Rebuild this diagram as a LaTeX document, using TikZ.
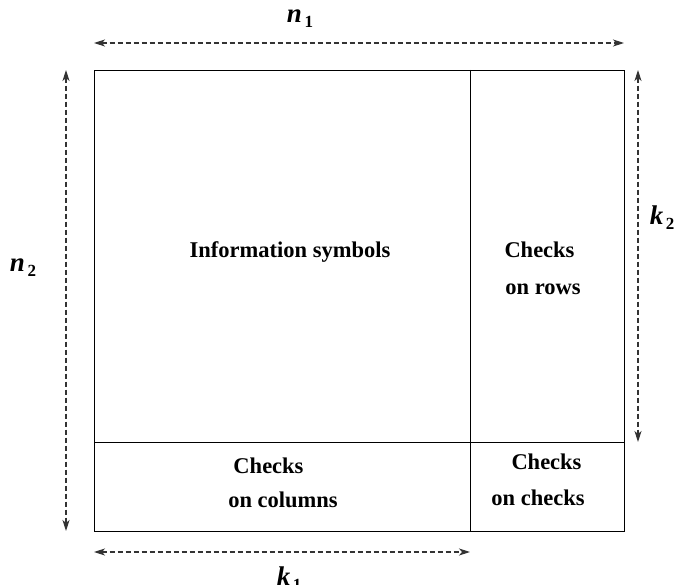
\documentclass[tikz,border=0pt]{standalone}
\usepackage{fontspec}
\setmainfont{Liberation Serif}
\usetikzlibrary{arrows.meta}
\newcommand{\dimlab}[2]{{\itshape #1}\kern2.5pt\raisebox{-5pt}{\upshape\fontsize{17}{17}\selectfont #2}}
\begin{document}
\begin{tikzpicture}[x=1pt,y=-1pt,
  box/.style={draw=black,line width=0.9pt},
  dim/.style={draw=black!80,line width=1.1pt,dash pattern=on 5pt off 3pt,
    {Stealth[length=11pt,width=7pt,inset=3pt]}-{Stealth[length=11pt,width=7pt,inset=3pt]}},
  lbl/.style={font=\fontsize{22.5}{24}\selectfont\bfseries,inner sep=0pt,anchor=base},
  sym/.style={font=\fontsize{27}{28}\selectfont\bfseries,inner sep=0pt}]
\useasboundingbox (0,0) rectangle (686,585);
% grid
\coordinate (tl) at (94,70);
\coordinate (br) at (624,531);
\coordinate (vt) at (470,70);
\coordinate (vb) at (470,531);
\coordinate (hl) at (94,442);
\coordinate (hr) at (624,442);
\draw[box] (tl) rectangle (br);
\draw[box] (vt) -- (vb);
\draw[box] (hl) -- (hr);
% dimension arrows
\coordinate (a1) at (94,43);  \coordinate (a2) at (624,43);
\coordinate (b1) at (66,70);  \coordinate (b2) at (66,531);
\coordinate (c1) at (638,70); \coordinate (c2) at (638,442);
\coordinate (d1) at (94,552); \coordinate (d2) at (470,552);
\draw[dim] (a1) -- (a2);
\draw[dim] (b1) -- (b2);
\draw[dim] (c1) -- (c2);
\draw[dim] (d1) -- (d2);
\node[sym] (n1) at (300,19) {\dimlab{n}{1}};
\node[sym] (n2) at (23,268) {\dimlab{n}{2}};
\node[sym] (k2) at (662,218) {\dimlab{k}{2}};
\node[sym] (k1) at (289,579) {\dimlab{k}{1}};
% texts
\node[lbl] (info) at (290,258) {Information symbols};
\node[lbl] (cr1) at (539.5,258) {Checks};
\node[lbl] (cr2) at (543,295) {on rows};
\node[lbl] (cc1) at (268.5,474) {Checks};
\node[lbl] (cc2) at (283,507) {on columns};
\node[lbl] (ck1) at (546.5,470) {Checks};
\node[lbl] (ck2) at (538,505) {on checks};
\end{tikzpicture}
\end{document}
